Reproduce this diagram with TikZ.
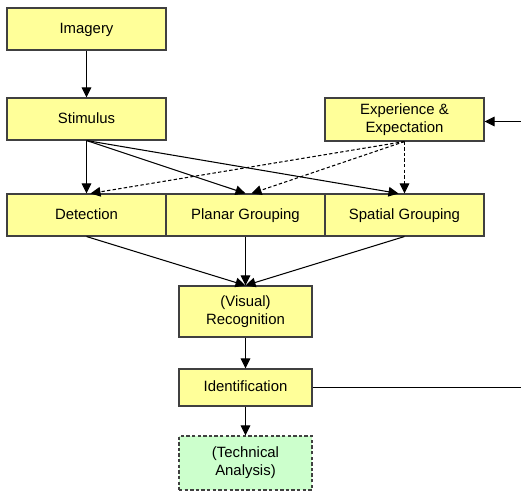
\documentclass[tikz,border=0pt]{standalone}
\usepackage{fontspec}
\setmainfont{Liberation Sans}
\usetikzlibrary{arrows.meta}
\definecolor{boxyellow}{HTML}{FFFF99}
\definecolor{boxgreen}{HTML}{CCFFCC}
\definecolor{boxline}{HTML}{404040}
\begin{document}
\begin{tikzpicture}[
            x=0.025cm, y=-0.025cm,
            font=\fontsize{10.6pt}{12.8pt}\selectfont,
            stage/.style={draw=boxline, fill=boxyellow, line width=0.75pt,
                inner sep=0pt, align=center, minimum width=3.975cm, minimum height=1.05cm},
            oneline/.style={text height=1.55ex, text depth=0.4ex},
            narrow/.style={stage, minimum width=3.325cm},
            link/.style={-{Triangle[length=0.25cm, width=0.24cm]}, line width=0.75pt},
            hint/.style={link, dash pattern=on 2.4pt off 1.6pt}
        ]
            \useasboundingbox (0,0) rectangle (521,491);
            \node[stage, oneline] (imagery) at (86.5,29) {Imagery};
            \node[stage, oneline] (stimulus) at (86.5,119) {Stimulus};
            \node[stage, minimum height=1.075cm] (expect) at (404.5,119.5) {Experience \&\\Expectation};
            \node[stage, oneline] (detect) at (86.5,215) {Detection};
            \node[stage, oneline] (planar) at (245.5,215) {Planar Grouping};
            \node[stage, oneline] (spatial) at (404.5,215) {Spatial Grouping};
            \node[narrow, minimum height=1.275cm] (recog) at (245.5,311.5) {(Visual)\\Recognition};
            \node[narrow, oneline, minimum height=0.925cm] (ident) at (245.5,387.5) {Identification};
            \node[narrow, minimum height=1.35cm, fill=boxgreen, dash pattern=on 2.4pt off 1.6pt] (tech) at (245.5,463) {(Technical\\Analysis)};
            \coordinate (feed) at (521,121.5);
            \coordinate (out) at (521,387.5);

            \draw[link] (imagery) -- (stimulus);
            \draw[link] (feed) -- (expect.east |- feed);
            \draw[link] (stimulus.south) -- (detect.north);
            \draw[link] (stimulus.south) -- (planar.north);
            \draw[link] (stimulus.south) -- ([xshift=-0.15cm]spatial.north);
            \draw[hint] (expect.south) -- ([xshift=0.1cm]detect.north);
            \draw[hint] (expect.south) -- ([xshift=0.15cm]planar.north);
            \draw[hint] (expect.south) -- (spatial.north);
            \draw[link] (detect.south) -- (recog.north);
            \draw[link] (planar.south) -- (recog.north);
            \draw[link] (spatial.south) -- (recog.north);
            \draw[link] (recog) -- (ident);
            \draw[link] (ident) -- (tech);
            \draw[line width=0.75pt] (ident.east) -- (out);
        \end{tikzpicture}
\end{document}
